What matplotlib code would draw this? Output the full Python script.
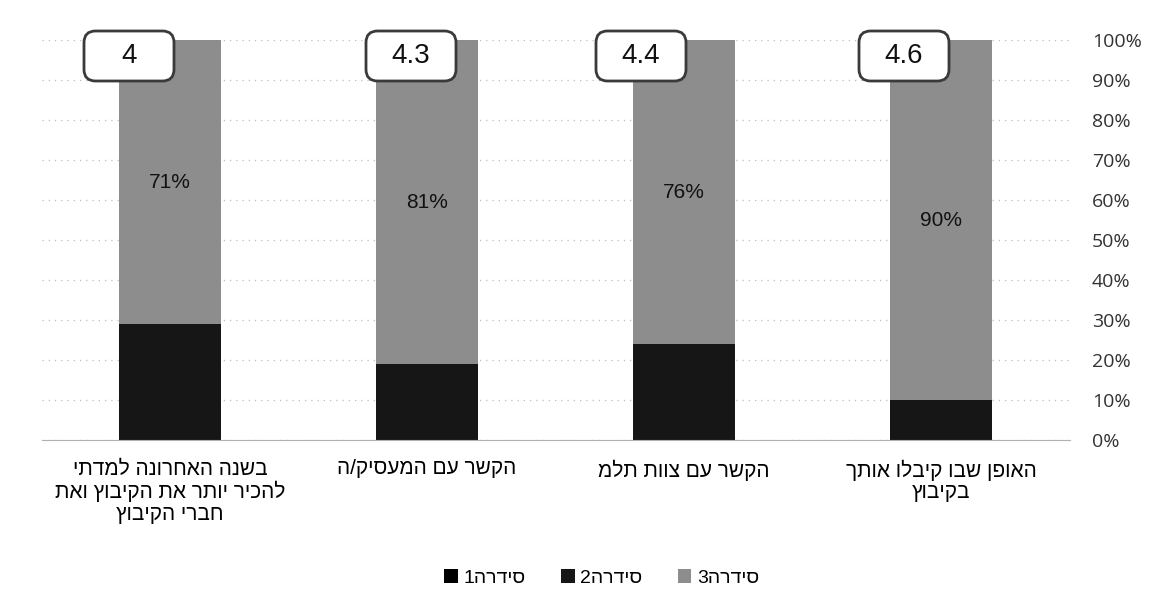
import matplotlib
matplotlib.use("Agg")
import matplotlib.pyplot as plt
from matplotlib.patches import FancyBboxPatch
import numpy as np

# categories in display order (left to right), Hebrew in logical order
categories = [
    "בשנה האחרונה למדתי\nלהכיר יותר את הקיבוץ ואת\nחברי הקיבוץ",
    "הקשר עם המעסיק/ה",
    "הקשר עם צוות תלמ",
    "האופן שבו קיבלו אותך\nבקיבוץ",
]
series1 = [0, 0, 0, 0]
series2 = [29, 19, 24, 10]
series3 = [71, 81, 76, 90]
averages = ["4", "4.3", "4.4", "4.6"]
series_names = ["סידרה1", "סידרה2", "סידרה3"]


def rtl(s):
    # matplotlib has no bidi support, so flip each line for display
    return "\n".join(line[::-1] for line in s.split("\n"))


plt.rcParams['font.family'] = ['Liberation Sans', 'DejaVu Sans']

fig = plt.figure(figsize=(11.51, 6.09), dpi=100)
ax = fig.add_axes([41.5 / 1151, 169 / 609, 1028 / 1151, 400 / 609])

x = np.arange(len(categories))
bar_w = 0.40
ax.bar(x, series1, bar_w, color="#000000", label=rtl(series_names[0]), zorder=2)
ax.bar(x, series2, bar_w, bottom=series1, color="#161616", label=rtl(series_names[1]), zorder=2)
bottom3 = np.array(series1) + np.array(series2)
ax.bar(x, series3, bar_w, bottom=bottom3, color="#8d8d8d", label=rtl(series_names[2]), zorder=2)

# percentage labels in the middle of the top segment
for xi, b, v in zip(x, bottom3, series3):
    ax.text(xi, b + v / 2, f"{v}%", ha="center", va="center", fontsize=15,
            color="#111111", zorder=3)

# rounded boxes with the average score
px_x = 1 / 257.0   # data units per pixel (x)
px_y = 100 / 400.0  # data units per pixel (y)
box_off = [-41, -16, -43, -37]
bw, bh = 90 * px_x, 50 * px_y
cy = 100 - (56 - 40) * px_y
for xi, off, avg in zip(x, box_off, averages):
    cx = xi + off * px_x
    box = FancyBboxPatch((cx - bw / 2, cy - bh / 2), bw, bh,
                         boxstyle="round,pad=0,rounding_size=0.045",
                         mutation_aspect=px_y / px_x,
                         facecolor="white", edgecolor="#3a3a3a", linewidth=2,
                         zorder=4, clip_on=False)
    ax.add_patch(box)
    ax.text(cx, cy, avg, ha="center", va="center", fontsize=20,
            color="#111111", zorder=5, clip_on=False)

ax.set_xlim(-0.5, len(categories) - 0.5)
ax.set_ylim(0, 100)
ax.set_xticks(x)
ax.set_xticklabels([rtl(c) for c in categories], fontsize=15, linespacing=1.15)
ax.tick_params(axis="x", length=0, pad=14)

ax.yaxis.tick_right()
ax.set_yticks(np.arange(0, 101, 10))
ax.set_yticklabels([f"{v}%" for v in range(0, 101, 10)], fontsize=14,
                   fontfamily="Open Sans", color="#333333")
ax.tick_params(axis="y", length=0, pad=16)
for lab in ax.get_yticklabels():
    lab.set_horizontalalignment("left")

ax.grid(axis="y", color="#bdbdbd", linestyle=(0, (1, 4)), linewidth=0.9, zorder=0)
for s in ["top", "left", "right"]:
    ax.spines[s].set_visible(False)
ax.spines["bottom"].set_color("#b0b0b0")
ax.spines["bottom"].set_linewidth(0.8)

ax.legend(loc="center", bbox_to_anchor=(0.545, -0.345), ncol=3, frameon=False,
          fontsize=14, handlelength=0.7, handleheight=0.7, handletextpad=0.3,
          columnspacing=1.8)

fig.savefig("out.png", dpi=100)
